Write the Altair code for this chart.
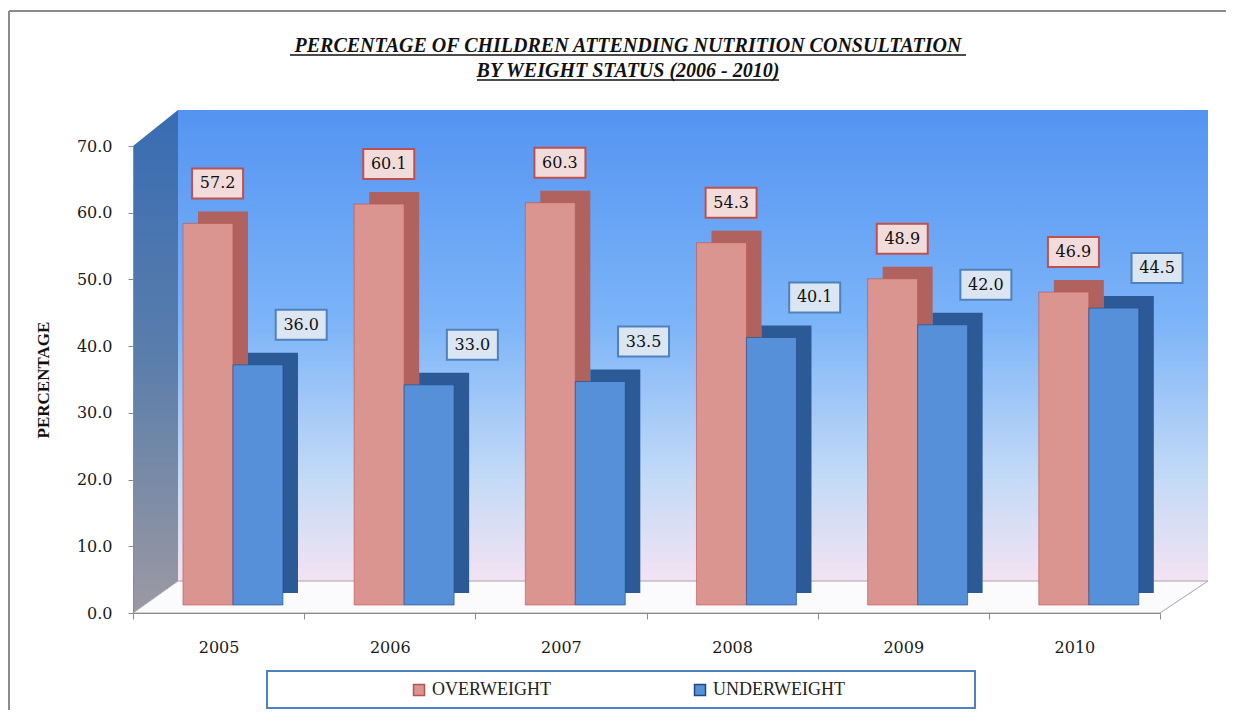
import altair as alt
import pandas as pd

# ---------------- data ----------------
years = ["2005", "2006", "2007", "2008", "2009", "2010"]
overweight = [57.2, 60.1, 60.3, 54.3, 48.9, 46.9]
underweight = [36.0, 33.0, 33.5, 40.1, 42.0, 44.5]
series_names = ["OVERWEIGHT", "UNDERWEIGHT"]
y_ticks = [0, 10, 20, 30, 40, 50, 60, 70]
title_lines = ["PERCENTAGE OF CHILDREN ATTENDING NUTRITION CONSULTATION",
               "BY WEIGHT STATUS (2006 - 2010)"]

rows = []
for i, yr in enumerate(years):
    rows.append({"year": yr, "series": series_names[0], "value": overweight[i]})
    rows.append({"year": yr, "series": series_names[1], "value": underweight[i]})
df = pd.DataFrame(rows)
one = pd.DataFrame({"d": [0]})

W, H = 1027, 467
SERIF = "DejaVu Serif"
TSERIF = "Liberation Serif"


def grad(stops):
    return alt.LinearGradient(
        gradient="linear",
        stops=[alt.GradientStop(color=c, offset=o) for o, c in stops],
        x1=0, x2=0, y1=0, y2=1)


def poly(path, fill, stroke=None, sw=0):
    kw = dict(shape=path, size=4, filled=True, fill=fill, opacity=1, strokeWidth=sw)
    if stroke:
        kw["stroke"] = stroke
    return alt.Chart(one).mark_point(**kw).encode(x=alt.value(0), y=alt.value(0))


def rule(x, x2, y, y2, color, sw):
    return alt.Chart(one).mark_rule(color=color, strokeWidth=sw).encode(
        x=alt.value(x), x2=alt.value(x2), y=alt.value(y), y2=alt.value(y2))


# ---------------- decorations (frame, 3D box) ----------------
frame_top = rule(-124, 1093, -135, -135, "#8c8c8c", 2)
frame_left = rule(-124, -124, -135, 564, "#8c8c8c", 2)

back_wall = poly("M45,-36L1075,-36L1075,435L45,435Z",
                 grad([(0, "#5494f2"), (0.45, "#7cb4f8"), (0.78, "#c3daf6"), (1, "#f3e3f2")]))
left_wall = poly("M0,0L45,-36L45,435L0,467Z",
                 grad([(0, "#386cb3"), (0.5, "#5b7eab"), (1, "#9c99a2")]))
floor = poly("M0,467L45,435L1075,435L1027,467Z", "#fbfbfd", "#a6a6a6", 1)

# ---------------- scales / axes ----------------
x_enc = alt.X("year:N", sort=years,
              scale=alt.Scale(paddingInner=0, paddingOuter=0),
              axis=alt.Axis(title=None, labelAngle=0, labelFont=SERIF, labelFontSize=16,
                            labelColor="#1a1a1a", labelPadding=20, tickSize=6,
                            tickBand="extent", tickColor="#8c8c8c", domainColor="#8c8c8c",
                            zindex=1))


def xo(align):
    return alt.XOffset("series:N", sort=series_names,
                       scale=alt.Scale(domain=series_names, paddingInner=0,
                                       paddingOuter=0.712, align=align))


y_enc = alt.Y("value:Q", scale=alt.Scale(domain=[0, 70], nice=False),
              axis=alt.Axis(values=y_ticks, format=".1f", title="PERCENTAGE",
                            titleFont=TSERIF, titleFontSize=17, titleFontWeight="bold",
                            titleColor="#111", titlePadding=24,
                            labelFont=SERIF, labelFontSize=16, labelColor="#1a1a1a",
                            labelPadding=16, tickSize=5, tickColor="#8c8c8c",
                            domainColor="#8c8c8c", grid=False, zindex=1))

base = alt.Chart(df)

# ---------------- bars ----------------
back_bars = base.transform_calculate(
    side="datum.series == 'OVERWEIGHT' ? '#b0625e' : '#2c5a96'"
).mark_bar(yOffset=-20, y2Offset=-20).encode(
    x=x_enc, xOffset=xo(0.913), y=y_enc,
    color=alt.Color("side:N", scale=None))

leg = alt.Legend(title=None, orient="none", legendX=277, legendY=535,
                 direction="horizontal", symbolType="square", symbolSize=121,
                 symbolStrokeWidth=1.5, labelFont=TSERIF, labelFontSize=18,
                 labelColor="#222", columnPadding=140, labelOffset=4, padding=0)

front_bars = base.mark_bar(yOffset=-8, y2Offset=-8, strokeWidth=0.6).encode(
    x=x_enc, xOffset=xo(0.702), y=y_enc,
    color=alt.Color("series:N", scale=alt.Scale(domain=series_names,
                                                 range=["#da9591", "#5590d8"]), legend=leg),
    stroke=alt.Stroke("series:N", scale=alt.Scale(domain=series_names,
                                                   range=["#c0504d", "#1f4a80"]), legend=leg))


def label_layers(name, fill, stroke, dx):
    dy = -48
    path = "M{a},{b}L{c},{b}L{c},{d}L{a},{d}Z".format(
        a=dx - 25.5, c=dx + 25.5, b=dy - 15, d=dy + 15)
    sub = base.transform_filter(alt.datum.series == name)
    box = sub.mark_point(shape=path, size=4, filled=True, fill=fill, stroke=stroke,
                         strokeWidth=2, opacity=1).encode(
        x=x_enc, xOffset=xo(0.702), y=y_enc)
    txt = sub.mark_text(font=SERIF, fontSize=16, color="#111", dx=dx, dy=dy,
                        align="center", baseline="middle").encode(
        x=x_enc, xOffset=xo(0.702), y=y_enc, text=alt.Text("value:Q", format=".1f"))
    return [box, txt]


ow_layers = label_layers("OVERWEIGHT", "#f2dcdb", "#c0504d", 14)
uw_layers = label_layers("UNDERWEIGHT", "#dce6f2", "#4f81bd", 27)

legend_box = alt.Chart(one).mark_rect(fill="white", stroke="#4f81bd", strokeWidth=2).encode(
    x=alt.value(134), x2=alt.value(842), y=alt.value(525), y2=alt.value(562))

# ---------------- title (two underlined lines) ----------------
title1 = alt.Chart(one).mark_text(
    text=title_lines[0], font=TSERIF, fontSize=20, fontWeight="bold", fontStyle="italic",
    color="#111", align="center", baseline="alphabetic").encode(
    x=alt.value(495), y=alt.value(-94))
title2 = alt.Chart(one).mark_text(
    text=title_lines[1], font=TSERIF, fontSize=20, fontWeight="bold", fontStyle="italic",
    color="#111", align="center", baseline="alphabetic").encode(
    x=alt.value(495), y=alt.value(-69))
ul1 = rule(157, 833, -91, -91, "#111", 1.5)
ul2 = rule(344, 646, -66, -66, "#111", 1.5)

chart = alt.layer(
    frame_top, frame_left, back_wall, left_wall, floor, back_bars, front_bars, legend_box,
    *ow_layers, *uw_layers, title1, title2, ul1, ul2
).resolve_scale(
    xOffset="independent"
).properties(
    width=W, height=H,
    autosize=alt.AutoSizeParams(type="none"),
    padding={"left": 125, "top": 138, "right": 66, "bottom": 97},
    background="white"
).configure_view(stroke=None)

chart.save("out.html", embed_options={"renderer": "svg", "actions": False})
